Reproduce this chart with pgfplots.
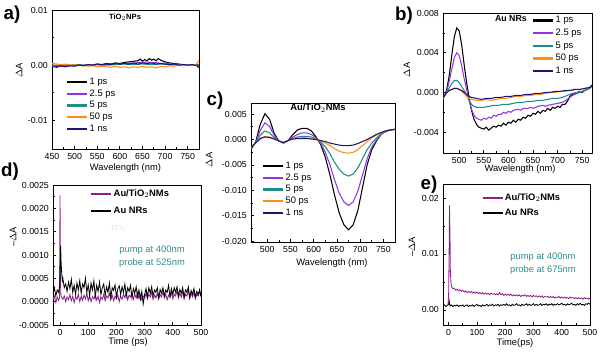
\documentclass[border=0pt]{standalone}
\usepackage{fontspec}
\setmainfont{Liberation Sans}
\usepackage{pgfplots}
\pgfplotsset{compat=1.18}
\definecolor{cpurple}{RGB}{150,50,230}
\definecolor{cteal}{RGB}{30,140,135}
\definecolor{corange}{RGB}{255,140,20}
\definecolor{cnavy}{RGB}{30,20,120}
\definecolor{cmag}{RGB}{140,30,140}
\definecolor{cann}{RGB}{50,140,140}
\pgfplotsset{
  panel/.style={
    scale only axis,
    axis line style={line width=0.8pt},
    tick pos=left, tick align=inside,
    major tick length=0.1cm, minor tick length=0.06cm,
    every tick/.style={line width=0.6pt, black},
    tick label style={font=\fontsize{7.5}{8}\selectfont},
    label style={font=\fontsize{8}{9}\selectfont},
    /pgf/number format/assume math mode=true,
    scaled y ticks=false, scaled x ticks=false,
    legend cell align=left,
    legend style={draw=none, fill=none, font=\fontsize{8}{9}\selectfont,
      anchor=north west, inner sep=0pt,
      nodes={inner sep=1pt, text height=6pt, text depth=2pt}},
    legend image code/.code={\draw[##1, line width=2pt] (0cm,0cm) -- (0.6cm,0cm);},
    every axis plot/.append style={line width=0.9pt, no markers},
  },
  ylab/.style 2 args={ylabel style={at={(axis description cs:#1,#2)}, anchor=center, rotate=0}},
  xlab/.style 2 args={xlabel style={at={(axis description cs:#1,#2)}, anchor=center}},
}
\begin{document}
\begin{tikzpicture}
\path[use as bounding box] (0,0) rectangle (18cm,10.59cm);

% ---------------- panel a ----------------
\begin{axis}[panel, at={(1.56cm,6.12cm)}, anchor=south west, width=4.41cm, height=4.17cm,
  xmin=450, xmax=775, ymin=-0.0152, ymax=0.01,
  xtick={450,500,...,750}, minor x tick num=1,
  ytick={-0.01,0,0.01}, minor y tick num=1,
  yticklabel style={/pgf/number format/.cd, fixed, fixed zerofill, precision=2},
  xlabel={Wavelength (nm)}, ylabel={$\Delta$A},
  xlab={0.5}{-0.137}, ylab={-0.224}{0.568},
  legend style={at={(axis description cs:0.095,0.525)}, row sep=0pt}]
\addplot[black] coordinates {(450,0.0000)(460,-0.0002)(470,-0.0001)(480,0.0000)(490,-0.0001)(500,0.0000)(510,0.0001)(520,-0.0001)(530,0.0001)(540,0.0000)(550,0.0002)(560,0.0001)(570,0.0003)(580,0.0002)(590,0.0004)(600,0.0003)(610,0.0005)(620,0.0006)(630,0.0007)(640,0.0008)(645,0.0011)(650,0.0007)(655,0.0010)(660,0.0008)(665,0.0012)(670,0.0009)(675,0.0011)(680,0.0008)(685,0.0012)(690,0.0009)(700,0.0006)(710,0.0004)(720,0.0003)(730,0.0002)(740,0.0001)(750,0.0001)(760,0.0000)(770,0.0001)(775,0.0000)};
\addlegendentry{1 ps}
\addplot[cpurple] coordinates {(450,-0.0001)(460,0.0000)(470,-0.0002)(480,0.0000)(490,-0.0001)(500,0.0001)(510,0.0000)(520,-0.0001)(530,0.0001)(540,0.0000)(550,0.0001)(560,0.0000)(570,0.0002)(580,0.0001)(590,0.0002)(600,0.0002)(610,0.0003)(620,0.0004)(630,0.0003)(640,0.0005)(650,0.0004)(660,0.0006)(670,0.0004)(680,0.0005)(690,0.0003)(700,0.0004)(710,0.0002)(720,0.0002)(730,0.0001)(740,0.0001)(750,0.0000)(760,0.0001)(770,-0.0001)(775,-0.0003)};
\addlegendentry{2.5 ps}
\addplot[cteal] coordinates {(450,0.0000)(470,-0.0001)(490,0.0000)(510,0.0001)(530,0.0000)(550,0.0001)(570,0.0000)(590,0.0001)(610,0.0002)(630,0.0001)(650,0.0002)(670,0.0001)(690,0.0002)(710,0.0001)(730,0.0000)(750,0.0001)(770,0.0000)(775,0.0001)};
\addlegendentry{5 ps}
\addplot[corange] coordinates {(450,0.0003)(460,0.0002)(470,0.0001)(480,0.0002)(490,0.0000)(500,0.0001)(510,-0.0001)(520,0.0000)(530,-0.0002)(540,-0.0001)(550,-0.0003)(560,-0.0002)(570,-0.0003)(580,-0.0004)(590,-0.0002)(600,-0.0004)(610,-0.0003)(620,-0.0005)(630,-0.0003)(640,-0.0004)(650,-0.0002)(660,-0.0004)(670,-0.0003)(680,-0.0005)(690,-0.0002)(700,-0.0003)(710,-0.0001)(720,-0.0002)(730,0.0000)(740,-0.0001)(750,0.0000)(760,-0.0001)(770,0.0002)(775,0.0009)};
\addlegendentry{50 ps}
\addplot[cnavy] coordinates {(450,-0.0002)(460,-0.0004)(470,-0.0001)(480,-0.0003)(490,-0.0001)(500,-0.0002)(510,0.0000)(520,-0.0001)(530,0.0001)(540,0.0000)(550,0.0002)(560,0.0001)(570,0.0002)(580,0.0001)(590,0.0003)(600,0.0002)(610,0.0003)(620,0.0002)(630,0.0004)(640,0.0002)(650,0.0004)(660,0.0003)(670,0.0004)(680,0.0002)(690,0.0003)(700,0.0002)(710,0.0001)(720,0.0002)(730,0.0000)(740,0.0001)(750,0.0000)(760,0.0001)(770,-0.0001)(775,-0.0005)};
\addlegendentry{1 ns}
\node[font=\fontsize{6.5}{7}\selectfont\bfseries] at (axis description cs:0.497,0.95) {TiO$_2$NPs};
\end{axis}

% ---------------- panel b ----------------
\begin{axis}[panel, at={(13.29cm,6.00cm)}, anchor=south west, width=4.47cm, height=4.20cm,
  xmin=467, xmax=770, ymin=-0.0061, ymax=0.008,
  xtick={500,550,...,750}, minor x tick num=1,
  ytick={-0.004,0,0.004,0.008}, minor y tick num=1,
  yticklabel style={/pgf/number format/.cd, fixed, fixed zerofill, precision=3},
  xlabel={Wavelength (nm)}, ylabel={$\Delta$A},
  xlab={0.517}{-0.114}, ylab={-0.242}{0.593},
  legend style={at={(axis description cs:0.597,0.99)}, row sep=0.77pt}]
\addplot[black] coordinates {(465,-0.0008)(470,-0.0004)(475,0.0004)(480,0.0018)(485,0.0038)(490,0.0056)(495,0.0065)(500,0.0062)(505,0.0048)(510,0.0028)(515,0.0010)(520,-0.0005)(525,-0.0018)(530,-0.0027)(535,-0.0032)(540,-0.0035)(545,-0.0036)(550,-0.0037)(555,-0.0035)(560,-0.0038)(565,-0.0036)(570,-0.0034)(575,-0.0035)(580,-0.0033)(585,-0.0034)(590,-0.0031)(595,-0.0033)(600,-0.0030)(605,-0.0031)(610,-0.0028)(615,-0.0030)(620,-0.0027)(625,-0.0028)(630,-0.0025)(635,-0.0026)(640,-0.0023)(645,-0.0024)(650,-0.0021)(655,-0.0022)(660,-0.0019)(665,-0.0021)(670,-0.0018)(675,-0.0019)(680,-0.0016)(685,-0.0018)(690,-0.0015)(695,-0.0016)(700,-0.0014)(705,-0.0015)(710,-0.0012)(715,-0.0012)(720,-0.0009)(725,-0.0004)(730,-0.0002)(735,-0.0001)(740,0.0000)(745,0.0001)(750,0.0000)(755,0.0002)(760,0.0003)(765,0.0004)(770,0.0007)};
\addlegendentry{1 ps}
\addplot[cpurple] coordinates {(465,-0.0008)(470,-0.0004)(475,0.0002)(480,0.0012)(485,0.0024)(490,0.0035)(495,0.0040)(500,0.0037)(505,0.0027)(510,0.0014)(515,0.0003)(520,-0.0008)(525,-0.0017)(530,-0.0023)(535,-0.0026)(540,-0.0027)(545,-0.0028)(550,-0.0026)(555,-0.0027)(560,-0.0025)(565,-0.0026)(570,-0.0023)(575,-0.0024)(580,-0.0022)(585,-0.0022)(590,-0.0020)(595,-0.0021)(600,-0.0019)(605,-0.0020)(610,-0.0018)(620,-0.0017)(625,-0.0018)(630,-0.0016)(640,-0.0016)(645,-0.0015)(650,-0.0016)(660,-0.0014)(670,-0.0013)(675,-0.0014)(680,-0.0013)(690,-0.0012)(700,-0.0011)(710,-0.0010)(720,-0.0007)(730,-0.0003)(740,-0.0001)(750,0.0001)(760,0.0003)(770,0.0006)};
\addlegendentry{2.5 ps}
\addplot[cteal] coordinates {(465,-0.0007)(470,-0.0004)(475,0.0000)(480,0.0005)(485,0.0009)(490,0.0012)(495,0.0012)(500,0.0010)(505,0.0006)(510,0.0002)(515,-0.0003)(520,-0.0008)(525,-0.0012)(530,-0.0014)(535,-0.0015)(540,-0.0015)(550,-0.0015)(560,-0.0014)(570,-0.0013)(580,-0.0013)(590,-0.0012)(600,-0.0012)(610,-0.0011)(620,-0.0010)(630,-0.0010)(640,-0.0009)(650,-0.0009)(660,-0.0008)(670,-0.0008)(680,-0.0007)(690,-0.0006)(700,-0.0006)(710,-0.0005)(720,-0.0003)(730,-0.0001)(740,0.0000)(750,0.0001)(760,0.0003)(770,0.0006)};
\addlegendentry{5 ps}
\addplot[corange] coordinates {(465,-0.0006)(470,-0.0003)(475,0.0000)(480,0.0002)(485,0.0003)(490,0.0004)(495,0.0004)(500,0.0003)(505,0.0001)(510,-0.0001)(515,-0.0004)(520,-0.0006)(525,-0.0007)(535,-0.0008)(545,-0.0008)(555,-0.0007)(565,-0.0008)(575,-0.0007)(585,-0.0006)(595,-0.0006)(605,-0.0005)(615,-0.0004)(625,-0.0004)(635,-0.0003)(645,-0.0003)(655,-0.0002)(665,-0.0002)(675,-0.0001)(685,0.0000)(695,0.0000)(705,0.0001)(715,0.0001)(725,0.0002)(735,0.0003)(745,0.0003)(755,0.0004)(765,0.0005)(770,0.0008)};
\addlegendentry{50 ps}
\addplot[cnavy] coordinates {(465,-0.0006)(470,-0.0003)(475,0.0000)(480,0.0002)(485,0.0003)(490,0.0004)(495,0.0004)(500,0.0003)(505,0.0002)(510,0.0000)(515,-0.0002)(520,-0.0004)(525,-0.0005)(535,-0.0006)(545,-0.0007)(555,-0.0006)(565,-0.0006)(575,-0.0005)(585,-0.0005)(595,-0.0004)(605,-0.0004)(615,-0.0003)(625,-0.0003)(635,-0.0002)(645,-0.0002)(655,-0.0001)(665,-0.0001)(675,0.0000)(685,0.0000)(695,0.0001)(705,0.0001)(715,0.0002)(725,0.0002)(735,0.0003)(745,0.0003)(755,0.0004)(765,0.0005)(770,0.0007)};
\addlegendentry{1 ns}
\node[font=\fontsize{7.5}{8}\selectfont\bfseries] at (axis description cs:0.456,0.963) {Au NRs};
\end{axis}

% ---------------- panel c ----------------
\begin{axis}[panel, at={(7.53cm,3.33cm)}, anchor=south west, width=4.32cm, height=4.17cm,
  xmin=465, xmax=775, ymin=-0.0202, ymax=0.0072,
  xtick={500,550,...,750}, minor x tick num=1,
  ytick={-0.02,-0.015,-0.01,-0.005,0,0.005}, minor y tick num=1,
  yticklabel style={/pgf/number format/.cd, fixed, fixed zerofill, precision=3},
  xlabel={Wavelength (nm)}, ylabel={$\Delta$A},
  xlab={0.5625}{-0.151}, ylab={-0.29}{0.59},
  legend style={at={(axis description cs:0.076,0.59)}, row sep=0pt}]
\addplot[black] coordinates {(465,-0.0020)(475,-0.0005)(485,0.0030)(495,0.0051)(505,0.0040)(515,0.0012)(525,-0.0003)(535,-0.0007)(545,-0.0002)(555,0.0010)(565,0.0019)(575,0.0022)(585,0.0022)(595,0.0017)(605,0.0005)(615,-0.0010)(625,-0.0035)(635,-0.0070)(645,-0.0110)(655,-0.0145)(665,-0.0168)(675,-0.0178)(685,-0.0168)(695,-0.0140)(705,-0.0095)(715,-0.0050)(725,-0.0020)(735,-0.0003)(745,0.0010)(755,0.0016)(765,0.0019)(775,0.0020)};
\addlegendentry{1 ps}
\addplot[cpurple] coordinates {(465,-0.0018)(475,-0.0006)(485,0.0018)(495,0.0033)(505,0.0026)(515,0.0008)(525,-0.0003)(535,-0.0006)(545,-0.0002)(555,0.0005)(565,0.0010)(575,0.0013)(585,0.0013)(595,0.0010)(605,0.0003)(615,-0.0007)(625,-0.0025)(635,-0.0050)(645,-0.0080)(655,-0.0106)(665,-0.0123)(675,-0.0130)(685,-0.0123)(695,-0.0102)(705,-0.0070)(715,-0.0038)(725,-0.0015)(735,-0.0001)(745,0.0010)(755,0.0016)(765,0.0019)(775,0.0020)};
\addlegendentry{2.5 ps}
\addplot[cteal] coordinates {(465,-0.0016)(475,-0.0006)(485,0.0009)(495,0.0017)(505,0.0013)(515,0.0004)(525,-0.0003)(535,-0.0006)(545,-0.0002)(555,0.0002)(565,0.0005)(575,0.0006)(585,0.0006)(595,0.0005)(605,0.0001)(615,-0.0005)(625,-0.0014)(635,-0.0028)(645,-0.0045)(655,-0.0059)(665,-0.0068)(675,-0.0072)(685,-0.0068)(695,-0.0056)(705,-0.0038)(715,-0.0020)(725,-0.0007)(735,0.0003)(745,0.0011)(755,0.0016)(765,0.0019)(775,0.0020)};
\addlegendentry{5 ps}
\addplot[corange] coordinates {(465,-0.0015)(475,-0.0007)(485,0.0002)(495,0.0006)(505,0.0005)(515,0.0001)(525,-0.0003)(535,-0.0006)(545,-0.0002)(555,0.0001)(565,0.0002)(575,0.0003)(585,0.0003)(595,0.0002)(605,0.0000)(615,-0.0003)(625,-0.0007)(635,-0.0012)(645,-0.0018)(655,-0.0023)(665,-0.0026)(675,-0.0027)(685,-0.0025)(695,-0.0020)(705,-0.0012)(715,-0.0004)(725,0.0003)(735,0.0009)(745,0.0013)(755,0.0017)(765,0.0019)(775,0.0020)};
\addlegendentry{50 ps}
\addplot[cnavy] coordinates {(465,-0.0015)(475,-0.0007)(485,0.0002)(495,0.0005)(505,0.0004)(515,0.0001)(525,-0.0003)(535,-0.0006)(545,-0.0002)(555,0.0001)(565,0.0002)(575,0.0002)(585,0.0002)(595,0.0001)(605,0.0000)(615,-0.0002)(625,-0.0004)(635,-0.0007)(645,-0.0009)(655,-0.0011)(665,-0.0012)(675,-0.0012)(685,-0.0011)(695,-0.0008)(705,-0.0004)(715,0.0000)(725,0.0005)(735,0.0010)(745,0.0014)(755,0.0017)(765,0.0019)(775,0.0020)};
\addlegendentry{1 ns}
\node[font=\fontsize{8}{9}\selectfont\bfseries] at (axis description cs:0.465,0.964) {Au/TiO$_2$NMs};
\end{axis}

% ---------------- panel d ----------------
\begin{axis}[panel, at={(1.59cm,0.84cm)}, anchor=south west, width=4.44cm, height=4.20cm,
  xmin=-25, xmax=500, ymin=-0.0005, ymax=0.0025,
  xtick={0,100,...,500}, minor x tick num=1,
  ytick={-0.0005,0,0.0005,0.001,0.0015,0.002,0.0025}, minor y tick num=1,
  yticklabel style={/pgf/number format/.cd, fixed, fixed zerofill, precision=4},
  xlabel={Time (ps)}, ylabel={–$\Delta$A},
  xlab={0.507}{-0.121}, ylab={-0.27}{0.629},
  every axis plot/.append style={line width=0.7pt},
  legend style={at={(axis description cs:0.25,0.98)}, row sep=4.5pt, font=\fontsize{8}{9}\selectfont\bfseries}]
\addplot[cmag] coordinates {(-25,0.00005)(-20,0.00012)(-15,-0.00002)(-10,0.00010)(-5,0.00003)(-2,0.00008)(0,0.00228)(1,0.00050)(3,0.00015)(5,0.00010)(10,0.00005)(15,0.00012)(20,0.00000)(25,0.00010)(30,0.00004)(35,0.00015)(40,0.00002)(45,0.00012)(50,-0.00002)(55,0.00010)(60,0.00005)(65,0.00016)(70,0.00000)(75,0.00012)(80,0.00003)(85,0.00014)(90,0.00006)(95,0.00018)(100,0.00002)(105,0.00012)(110,0.00000)(115,0.00010)(120,0.00006)(125,0.00015)(130,0.00003)(135,0.00012)(140,-0.00002)(145,0.00010)(150,0.00005)(155,0.00016)(160,0.00002)(165,0.00012)(170,0.00008)(175,0.00018)(180,0.00004)(185,0.00014)(190,0.00002)(195,0.00012)(200,0.00006)(205,0.00015)(210,0.00000)(215,0.00012)(220,0.00005)(225,0.00016)(230,0.00008)(235,0.00020)(240,0.00004)(245,0.00014)(250,0.00010)(255,0.00018)(260,0.00005)(265,0.00016)(270,0.00008)(275,0.00020)(280,0.00006)(285,0.00015)(290,0.00004)(295,0.00012)(300,0.00008)(305,0.00018)(310,0.00006)(315,0.00016)(320,0.00010)(325,0.00020)(330,0.00005)(335,0.00014)(340,0.00008)(345,0.00018)(350,0.00006)(355,0.00015)(360,0.00010)(365,0.00022)(370,0.00008)(375,0.00016)(380,0.00004)(385,0.00014)(390,0.00010)(395,0.00020)(400,0.00006)(405,0.00016)(410,0.00012)(415,0.00024)(420,0.00008)(425,0.00018)(430,0.00010)(435,0.00022)(440,0.00006)(445,0.00016)(450,0.00012)(455,0.00024)(460,0.00008)(465,0.00018)(470,0.00010)(475,0.00020)(480,0.00006)(485,0.00016)(490,0.00012)(495,0.00022)(500,0.00010)};
\addlegendentry{Au/TiO$_2$NMs}
\addplot[black] coordinates {(-25,0.00018)(-20,0.00030)(-15,0.00012)(-10,0.00025)(-5,0.00020)(0,0.00040)(2,0.00120)(4,0.00080)(6,0.00060)(8,0.00045)(10,0.00050)(15,0.00030)(20,0.00038)(25,0.00022)(30,0.00042)(35,0.00028)(40,0.00048)(45,0.00020)(50,0.00035)(55,0.00015)(60,0.00040)(65,0.00025)(70,0.00045)(75,0.00018)(80,0.00038)(85,0.00030)(90,0.00050)(95,0.00020)(100,0.00036)(105,0.00012)(110,0.00040)(115,0.00025)(120,0.00045)(125,0.00010)(130,0.00035)(135,0.00022)(140,0.00042)(145,0.00015)(150,0.00030)(155,0.00038)(160,0.00012)(165,0.00032)(170,0.00020)(175,0.00040)(180,0.00008)(185,0.00030)(190,0.00024)(195,0.00036)(200,0.00010)(205,0.00028)(210,0.00034)(215,0.00015)(220,0.00032)(225,0.00020)(230,0.00038)(235,0.00012)(240,0.00030)(245,0.00022)(250,0.00035)(255,0.00008)(260,0.00028)(265,0.00018)(270,0.00032)(275,0.00010)(280,0.00025)(285,0.00005)(290,0.00022)(295,-0.00005)(300,0.00015)(305,0.00028)(310,0.00010)(315,0.00030)(320,0.00018)(325,0.00032)(330,0.00012)(335,0.00025)(340,0.00020)(345,0.00030)(350,0.00008)(355,0.00026)(360,0.00018)(365,0.00030)(370,0.00012)(375,0.00025)(380,0.00020)(385,0.00035)(390,0.00010)(395,0.00028)(400,0.00015)(405,0.00030)(410,0.00020)(415,0.00032)(420,0.00012)(425,0.00026)(430,0.00018)(435,0.00030)(440,0.00010)(445,0.00025)(450,0.00020)(455,0.00032)(460,0.00008)(465,0.00024)(470,0.00016)(475,0.00028)(480,0.00010)(485,0.00022)(490,0.00015)(495,0.00026)(500,0.00012)};
\addlegendentry{Au NRs}
\node[font=\fontsize{6}{7}\selectfont, text=gray!20] at (axis description cs:0.44,0.69) {TiO$_2$};
\node[font=\fontsize{8}{9}\selectfont, text=cann] at (axis description cs:0.669,0.536) {pump at 400nm};
\node[font=\fontsize{8}{9}\selectfont, text=cann] at (axis description cs:0.669,0.443) {probe at 525nm};
\end{axis}

% ---------------- panel e ----------------
\begin{axis}[panel, at={(13.29cm,0.84cm)}, anchor=south west, width=4.41cm, height=4.23cm,
  xmin=-20, xmax=500, ymin=-0.0027, ymax=0.0225,
  xtick={0,100,...,500}, minor x tick num=1,
  ytick={0,0.01,0.02}, minor y tick num=1,
  yticklabel style={/pgf/number format/.cd, fixed, fixed zerofill, precision=2},
  xlabel={Time(ps)}, ylabel={–$\Delta$A},
  xlab={0.49}{-0.128}, ylab={-0.211}{0.553},
  every axis plot/.append style={line width=0.7pt},
  legend style={at={(axis description cs:0.26,0.943)}, row sep=2.7pt, font=\fontsize{8}{9}\selectfont\bfseries}]
\addplot[cmag] coordinates {(-2,0.0010)(0,0.0030)(2,0.0120)(3,0.0187)(5,0.0125)(6,0.0070)(8,0.0050)(10,0.0042)(12,0.0040)(15,0.0038)(20,0.0039)(25,0.0035)(30,0.0037)(35,0.0034)(40,0.0036)(45,0.0033)(50,0.0035)(55,0.0032)(60,0.0034)(65,0.0031)(70,0.0033)(75,0.0031)(80,0.0033)(85,0.0030)(90,0.0032)(95,0.0030)(100,0.0032)(105,0.0029)(110,0.0031)(115,0.0029)(120,0.0031)(125,0.0028)(130,0.0030)(135,0.0028)(140,0.0030)(145,0.0027)(150,0.0030)(155,0.0028)(160,0.0029)(165,0.0027)(170,0.0029)(175,0.0027)(180,0.0031)(185,0.0027)(190,0.0029)(195,0.0026)(200,0.0028)(205,0.0026)(210,0.0028)(215,0.0026)(220,0.0028)(225,0.0025)(230,0.0027)(235,0.0025)(240,0.0027)(245,0.0025)(250,0.0027)(255,0.0024)(260,0.0026)(265,0.0025)(270,0.0027)(275,0.0024)(280,0.0026)(285,0.0024)(290,0.0026)(295,0.0023)(300,0.0026)(305,0.0024)(310,0.0025)(315,0.0023)(320,0.0025)(325,0.0023)(330,0.0025)(335,0.0022)(340,0.0024)(345,0.0023)(350,0.0024)(355,0.0022)(360,0.0024)(365,0.0022)(370,0.0024)(375,0.0021)(380,0.0023)(385,0.0022)(390,0.0024)(395,0.0021)(400,0.0023)(405,0.0021)(410,0.0023)(415,0.0021)(420,0.0022)(425,0.0020)(430,0.0023)(435,0.0021)(440,0.0022)(445,0.0020)(450,0.0022)(455,0.0020)(460,0.0022)(465,0.0020)(470,0.0021)(475,0.0019)(480,0.0022)(485,0.0020)(490,0.0021)(495,0.0019)(500,0.0021)};
\addlegendentry{Au/TiO$_2$NMs}
\addplot[black] coordinates {(-20,0.0007)(-15,0.0009)(-10,0.0006)(-5,0.0008)(0,0.0010)(2,0.0016)(4,0.0009)(5,0.0007)(10,0.0009)(15,0.0006)(20,0.0008)(25,0.0007)(30,0.0009)(35,0.0006)(40,0.0008)(45,0.0007)(50,0.0009)(55,0.0006)(60,0.0008)(65,0.0009)(70,0.0006)(75,0.0008)(80,0.0007)(85,0.0009)(90,0.0006)(95,0.0008)(100,0.0010)(105,0.0007)(110,0.0008)(115,0.0006)(120,0.0009)(125,0.0007)(130,0.0008)(135,0.0010)(140,0.0007)(145,0.0009)(150,0.0008)(155,0.0010)(160,0.0007)(165,0.0009)(170,0.0008)(175,0.0010)(180,0.0007)(185,0.0009)(190,0.0008)(195,0.0010)(200,0.0008)(205,0.0011)(210,0.0008)(215,0.0009)(220,0.0007)(225,0.0010)(230,0.0008)(235,0.0009)(240,0.0011)(245,0.0008)(250,0.0009)(255,0.0007)(260,0.0010)(265,0.0008)(270,0.0009)(275,0.0011)(280,0.0008)(285,0.0010)(290,0.0008)(295,0.0009)(300,0.0011)(305,0.0008)(310,0.0010)(315,0.0008)(320,0.0009)(325,0.0011)(330,0.0008)(335,0.0010)(340,0.0009)(345,0.0011)(350,0.0008)(355,0.0010)(360,0.0009)(365,0.0011)(370,0.0008)(375,0.0010)(380,0.0009)(385,0.0011)(390,0.0009)(395,0.0010)(400,0.0012)(405,0.0009)(410,0.0010)(415,0.0008)(420,0.0011)(425,0.0009)(430,0.0010)(435,0.0012)(440,0.0009)(445,0.0010)(450,0.0008)(455,0.0011)(460,0.0009)(465,0.0012)(470,0.0009)(475,0.0010)(480,0.0008)(485,0.0011)(490,0.0010)(495,0.0012)(500,0.0010)};
\addlegendentry{Au NRs}
\node[font=\fontsize{8}{9}\selectfont, text=cann] at (axis description cs:0.68,0.482) {pump at 400nm};
\node[font=\fontsize{8}{9}\selectfont, text=cann] at (axis description cs:0.68,0.39) {probe at 675nm};
\end{axis}

% panel letters
\node[font=\fontsize{16}{16}\selectfont\bfseries] at (0.36cm,10.14cm) {a)};
\node[font=\fontsize{16}{16}\selectfont\bfseries] at (12.12cm,10.11cm) {b)};
\node[font=\fontsize{16}{16}\selectfont\bfseries] at (6.45cm,7.56cm) {c)};
\node[font=\fontsize{16}{16}\selectfont\bfseries] at (0.30cm,5.43cm) {d)};
\node[font=\fontsize{16}{16}\selectfont\bfseries] at (12.87cm,5.04cm) {e)};
\end{tikzpicture}
\end{document}
